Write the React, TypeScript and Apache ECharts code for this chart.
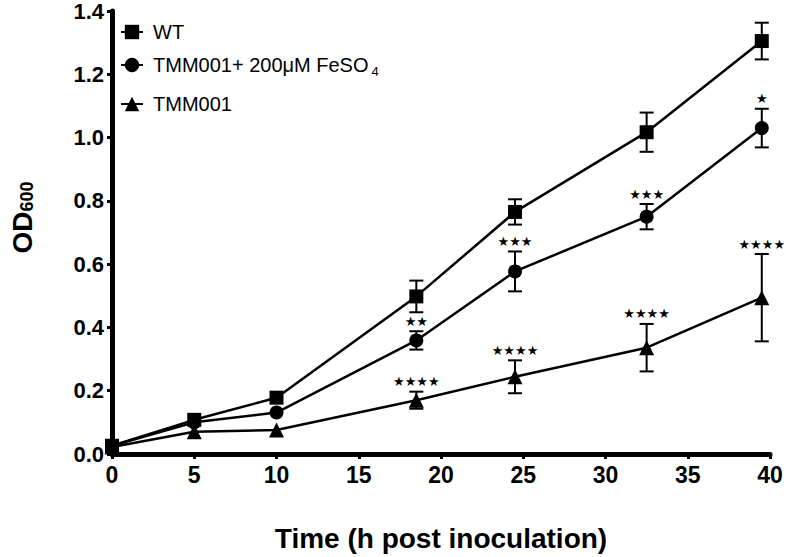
import React, { useEffect, useRef } from "react";
import * as echarts from "echarts";

const time = [0, 5, 10, 18.5, 24.5, 32.5, 39.5];
const wtMean = [0.026, 0.108, 0.178, 0.498, 0.765, 1.017, 1.305];
const wtErr = [0, 0, 0, 0.05, 0.04, 0.062, 0.058];
const feMean = [0.026, 0.1, 0.131, 0.359, 0.577, 0.75, 1.03];
const feErr = [0, 0, 0, 0.029, 0.063, 0.04, 0.061];
const mutMean = [0.022, 0.07, 0.076, 0.17, 0.244, 0.336, 0.494];
const mutErr = [0, 0, 0, 0.027, 0.052, 0.075, 0.138];
const wtStars = ["", "", "", "", "", "", ""];
const feStars = ["", "", "", "★★", "★★★", "★★★", "★"];
const mutStars = ["", "", "", "★★★★", "★★★★", "★★★★", "★★★★"];

const seriesNames = ["WT", "TMM001+ 200μM FeSO4", "TMM001"];
const yTicks = [0, 0.2, 0.4, 0.6, 0.8, 1.0, 1.2, 1.4];

const FONT = "'Liberation Sans', Arial, Helvetica, sans-serif";

function errorSeries(mean: number[], err: number[], stars: string[]) {
  return {
    type: "custom",
    silent: true,
    z: 1,
    data: time.map((t, i) => [t, mean[i]]),
    renderItem: (params: any, api: any) => {
      const i = params.dataIndex;
      const c = api.coord([time[i], mean[i]]);
      const top = api.coord([time[i], mean[i] + err[i]]);
      const bot = api.coord([time[i], mean[i] - err[i]]);
      const children: any[] = [];
      const ls = { stroke: "#000", lineWidth: 2 };
      if (err[i] > 0) {
        children.push({ type: "line", shape: { x1: c[0], y1: top[1], x2: c[0], y2: bot[1] }, style: ls });
        children.push({ type: "line", shape: { x1: c[0] - 7, y1: top[1], x2: c[0] + 7, y2: top[1] }, style: ls });
        children.push({ type: "line", shape: { x1: c[0] - 7, y1: bot[1], x2: c[0] + 7, y2: bot[1] }, style: ls });
      }
      if (stars[i]) {
        children.push({
          type: "text",
          x: c[0],
          y: top[1] - 10,
          style: {
            text: stars[i],
            fill: "#000",
            fontSize: 13,
            fontFamily: "'DejaVu Sans', sans-serif",
            align: "center",
            verticalAlign: "middle",
          },
        });
      }
      return { type: "group", children };
    },
  };
}

function lineSeries(name: string, mean: number[], symbol: string, size: number) {
  return {
    type: "line",
    name,
    z: 3,
    data: time.map((t, i) => [t, mean[i]]),
    symbol,
    symbolSize: size,
    showAllSymbol: true,
    itemStyle: { color: "#000", borderWidth: 0 },
    lineStyle: { color: "#000", width: 2.5 },
  };
}

const legendBase = {
  orient: "vertical",
  left: 120,
  padding: 0,
  itemWidth: 22,
  itemHeight: 18,
  selectedMode: false,
  textStyle: {
    fontSize: 20,
    color: "#000",
    fontFamily: FONT,
    padding: [0, 0, 0, 5],
    rich: {
      n: { fontSize: 20, color: "#000", fontFamily: FONT, lineHeight: 26 },
      sub: { fontSize: 13, color: "#000", fontFamily: FONT, lineHeight: 13, verticalAlign: "bottom", padding: [0, 0, 0, 3] },
    },
  },
};

export default function App() {
  const ref = useRef<HTMLDivElement>(null);
  useEffect(() => {
    document.body.style.margin = "0";
    const chart = echarts.init(ref.current!, undefined, { renderer: "svg" });
    chart.setOption({
      animation: false,
      backgroundColor: "#fff",
      grid: { left: 104, right: 16, top: 10, bottom: 102, containLabel: false },
      legend: [
        { ...legendBase, top: 22, data: [seriesNames[0]] },
        {
          ...legendBase,
          top: 55,
          data: [seriesNames[1]],
          formatter: () => "{n|TMM001+ 200μM FeSO}{sub|4}",
        },
        { ...legendBase, top: 94, data: [seriesNames[2]] },
      ],
      xAxis: {
        type: "value",
        min: 0,
        max: 40,
        interval: 5,
        name: "Time (h post inoculation)",
        nameLocation: "middle",
        nameGap: 70,
        nameTextStyle: { fontSize: 28, fontWeight: "bold", color: "#000", fontFamily: FONT },
        axisLine: { show: true, lineStyle: { color: "#000", width: 5, cap: "round" } },
        axisTick: { show: true, inside: false, length: 5, lineStyle: { color: "#000", width: 3 } },
        axisLabel: { fontSize: 23, fontWeight: "bold", color: "#000", fontFamily: FONT, margin: 9 },
        splitLine: { show: false },
      },
      yAxis: {
        type: "value",
        min: yTicks[0],
        max: yTicks[yTicks.length - 1],
        interval: 0.2,
        name: "OD{sub|600}",
        nameLocation: "middle",
        nameRotate: 90,
        nameGap: 76,
        nameTextStyle: {
          fontSize: 28,
          fontWeight: "bold",
          color: "#000",
          fontFamily: FONT,
          padding: [0, 0, 0, 30],
          rich: {
            sub: { fontSize: 18, fontWeight: "bold", color: "#000", fontFamily: FONT, verticalAlign: "bottom", lineHeight: 18 },
          },
        },
        axisLine: { show: true, lineStyle: { color: "#000", width: 5, cap: "round" } },
        axisTick: { show: true, inside: false, length: 5, lineStyle: { color: "#000", width: 3 } },
        axisLabel: {
          fontSize: 22,
          fontWeight: "bold",
          color: "#000",
          fontFamily: FONT,
          margin: 8,
          formatter: (v: number) => v.toFixed(1),
        },
        splitLine: { show: false },
      },
      series: [
        errorSeries(wtMean, wtErr, wtStars),
        errorSeries(feMean, feErr, feStars),
        errorSeries(mutMean, mutErr, mutStars),
        lineSeries(seriesNames[0], wtMean, "rect", 14),
        lineSeries(seriesNames[1], feMean, "circle", 14),
        lineSeries(seriesNames[2], mutMean, "triangle", 15),
      ],
    });
    return () => chart.dispose();
  }, []);
  return <div ref={ref} style={{ width: 786, height: 557 }} />;
}
